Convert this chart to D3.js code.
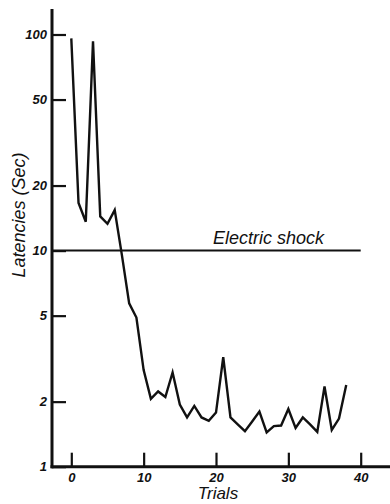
<!DOCTYPE html>
<html>
<head>
<meta charset="utf-8">
<script src="https://cdn.jsdelivr.net/npm/d3@7"></script>
<style>
  body { margin: 0; background: white; }
  text { font-family: "Liberation Sans", Arial, sans-serif; }
</style>
</head>
<body>
<div class="graph"></div>
<script>
// Latency per trial (log scale)

var trials = [0, 1, 2, 3, 4, 5, 6, 7, 8, 9,
              10, 11, 12, 13, 14, 15, 16, 17, 18, 19,
              20, 21, 22, 23, 24, 25, 26, 27, 28, 29,
              30, 31, 32, 33, 34, 35, 36, 37, 38];

var latencies = [96, 16.6, 13.6, 93, 14.4, 13.3, 15.4, 9.5, 5.7, 4.9,
                 2.8, 2.06, 2.23, 2.1, 2.73, 1.94, 1.69, 1.91, 1.69, 1.63,
                 1.78, 3.21, 1.69, 1.57, 1.46, 1.62, 1.8, 1.44, 1.54, 1.55,
                 1.85, 1.51, 1.69, 1.57, 1.45, 2.35, 1.48, 1.67, 2.39];

var yTicks = [1, 2, 5, 10, 20, 50, 100];
var xTicks = [0, 10, 20, 30, 40];
var shockLevel = 10;
var shockLabel = "Electric shock";

let width = 390, height = 504;

let svg = d3.select(".graph").append("svg")
    .attr("width", width)
    .attr("height", height);

let x = d3.scaleLinear().domain([0, 40]).range([71.3, 360.7]);
let y = d3.scaleLog().domain([1, 100]).range([466.7, 34.5]);

let axisX = 52;   // where the y axis sits

// y axis: ticks point inward, labels outside
let yAxis = svg.append("g")
    .attr("transform", "translate(" + axisX + ",0)")
    .call(d3.axisLeft(y).tickValues(yTicks).tickSize(-14).tickPadding(5)
        .tickFormat(d3.format("d")));
yAxis.select(".domain").remove();
yAxis.selectAll(".tick line").attr("stroke", "#111").attr("stroke-width", 2.2);
yAxis.selectAll(".tick text")
    .style("font-size", "13px")
    .style("font-style", "italic")
    .style("font-weight", "bold")
    .attr("fill", "#111");

// x axis
let xAxis = svg.append("g")
    .attr("transform", "translate(0," + y(1) + ")")
    .call(d3.axisBottom(x).tickValues(xTicks).tickSize(-14).tickPadding(6));
xAxis.select(".domain").remove();
xAxis.selectAll(".tick line").attr("stroke", "#111").attr("stroke-width", 2.2);
xAxis.selectAll(".tick text")
    .style("font-size", "13px")
    .style("font-style", "italic")
    .style("font-weight", "bold")
    .attr("fill", "#111");

// axis lines drawn by hand since they run past the scale ranges
svg.append("line")
    .attr("x1", axisX).attr("x2", axisX)
    .attr("y1", 9).attr("y2", y(1) + 1.5)
    .attr("stroke", "#111").attr("stroke-width", 3);
svg.append("line")
    .attr("x1", axisX - 1.5).attr("x2", width)
    .attr("y1", y(1)).attr("y2", y(1))
    .attr("stroke", "#111").attr("stroke-width", 3);

// electric shock threshold
svg.append("line")
    .attr("x1", axisX).attr("x2", x(40))
    .attr("y1", y(shockLevel)).attr("y2", y(shockLevel))
    .attr("stroke", "#111").attr("stroke-width", 2);
svg.append("text")
    .attr("x", 213).attr("y", y(shockLevel) - 7)
    .style("font-size", "18px")
    .style("font-style", "italic")
    .attr("fill", "#111")
    .text(shockLabel);

// latency curve
let line = d3.line()
    .x(function(d, i) { return x(trials[i]); })
    .y(function(d) { return y(d); });

svg.append("path")
    .datum(latencies)
    .attr("d", line)
    .attr("fill", "none")
    .attr("stroke", "#111")
    .attr("stroke-width", 2.4)
    .attr("stroke-linejoin", "miter");

// axis titles
svg.append("text")
    .attr("transform", "translate(24.5,215) rotate(-90)")
    .attr("text-anchor", "middle")
    .style("font-size", "18px")
    .style("font-style", "italic")
    .attr("fill", "#111")
    .text("Latencies (Sec)");

svg.append("text")
    .attr("x", 218).attr("y", 499)
    .attr("text-anchor", "middle")
    .style("font-size", "17px")
    .style("font-style", "italic")
    .attr("fill", "#111")
    .text("Trials");
</script>
</body>
</html>
